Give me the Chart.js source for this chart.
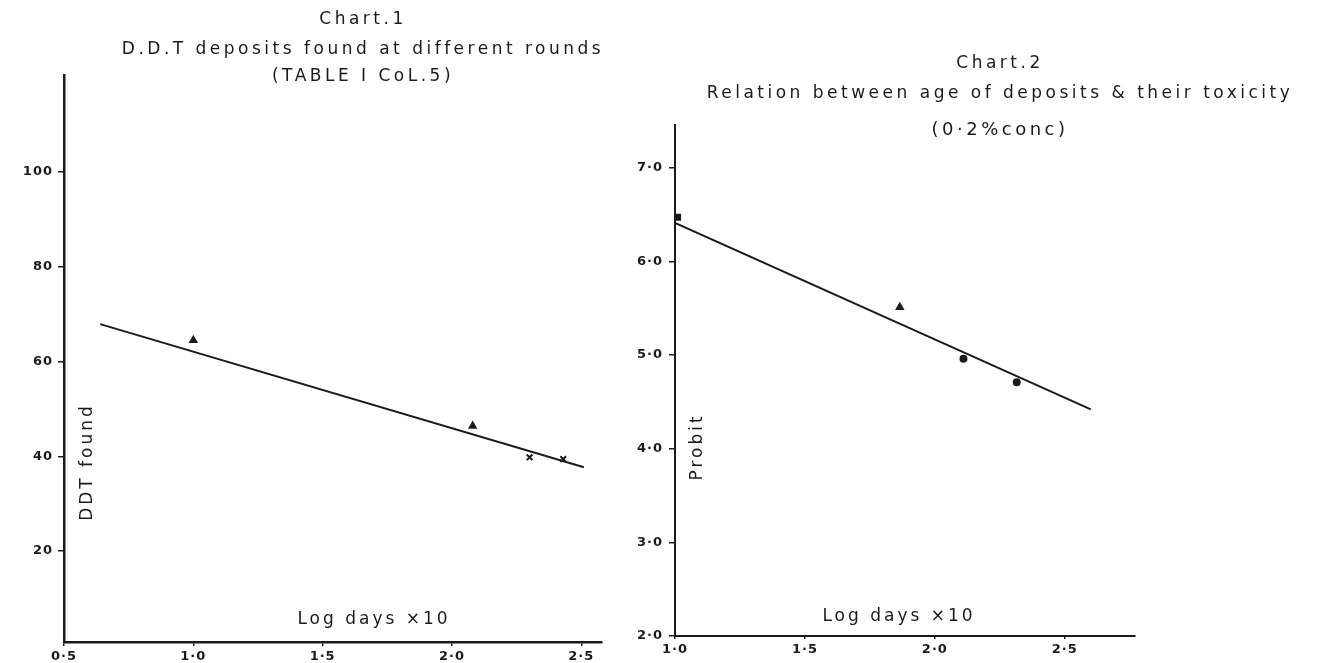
<!DOCTYPE html>
<html><head><meta charset="utf-8">
<script src="https://cdn.jsdelivr.net/npm/chart.js@4.4.1/dist/chart.umd.min.js"></script>
<style>
html,body{margin:0;padding:0;background:#fff;overflow:hidden;}
#wrap{position:relative;width:1321px;height:663px;overflow:hidden;background:#fff;}
#c1{position:absolute;left:0;top:0;}
#c2{position:absolute;left:630px;top:0;}
</style></head><body>
<div id="wrap"><canvas id="c2" width="740" height="663"></canvas><canvas id="c1" width="726" height="663"></canvas></div>
<script>
// ---- Chart 1: D.D.T deposits found at different rounds ----
const c1ObsLogDays = [1.00, 2.08, 2.30, 2.43];
const c1ObsDDT     = [64.5, 46.4, 39.8, 39.4];
const c1FitLogDays = [0.64, 2.51];
const c1FitDDT     = [67.9, 37.7];
const c1XTicks      = [0.5, 1.0, 1.5, 2.0, 2.5];
const c1XTickLabels = ['0·5', '1·0', '1·5', '2·0', '2·5'];
const c1YTicks      = [20, 40, 60, 80, 100];
const c1YTickLabels = ['20', '40', '60', '80', '100'];

// ---- Chart 2: Relation between age of deposits & their toxicity ----
const c2ObsLogDays = [1.01, 1.865, 2.11, 2.315];
const c2ObsProbit  = [6.47, 5.51, 4.96, 4.71];
const c2FitLogDays = [1.00, 2.60];
const c2FitProbit  = [6.41, 4.42];
const c2XTicks      = [1.0, 1.5, 2.0, 2.5];
const c2XTickLabels = ['1·0', '1·5', '2·0', '2·5'];
const c2YTicks      = [2, 3, 4, 5, 6, 7];
const c2YTickLabels = ['2·0', '3·0', '4·0', '5·0', '6·0', '7·0'];

const INK = '#1b1b1b';
const FONT = "'DejaVu Sans', sans-serif";

const spacingPlugin = {
  id: 'spacing',
  beforeDraw(chart, args, opts) { chart.ctx.letterSpacing = opts.title; },
  beforeDatasetsDraw(chart, args, opts) { chart.ctx.letterSpacing = opts.ticks; },
  afterDraw(chart) { chart.ctx.letterSpacing = '0px'; }
};

const inPlotTitles = {
  id: 'inPlotTitles',
  afterDraw(chart, args, o) {
    const {ctx, chartArea} = chart;
    ctx.save();
    ctx.letterSpacing = o.spacing;
    ctx.font = o.font;
    ctx.fillStyle = o.color;
    ctx.textAlign = 'center';
    ctx.textBaseline = 'middle';
    ctx.fillText(o.xText, chartArea.left + o.xdx, chartArea.bottom - o.xdy);
    ctx.translate(chartArea.left + o.ydx, chartArea.bottom - o.ydy);
    ctx.rotate(-Math.PI / 2);
    ctx.fillText(o.yText, 0, 0);
    ctx.restore();
  }
};

function pts(xs, ys) { return xs.map((x, i) => ({x: x, y: ys[i]})); }

function buildChart(id, s) {
  return new Chart(document.getElementById(id), {
    type: 'scatter',
    data: {
      datasets: [
        { label: 'fitted line', data: pts(s.fitX, s.fitY), showLine: true,
          borderColor: INK, borderWidth: 2, pointRadius: 0, fill: false },
        { label: 'observed', data: pts(s.obsX, s.obsY), showLine: false,
          pointStyle: s.pointStyles, pointRadius: s.pointRadii, pointBackgroundColor: INK,
          pointBorderColor: INK, pointBorderWidth: 2 }
      ]
    },
    options: {
      responsive: false, animation: false, devicePixelRatio: 1,
      layout: { padding: 0 },
      plugins: {
        legend: { display: false },
        tooltip: { enabled: false },
        title: { display: true, text: s.title, color: INK,
          font: { family: FONT, size: 17, weight: 'normal', lineHeight: 30 / 17 },
          padding: { top: s.titlePadTop, bottom: 0 } },
        subtitle: { display: true, text: s.subtitle, color: INK,
          font: { family: FONT, size: s.subSize, weight: 'normal', lineHeight: 20 / s.subSize },
          padding: { top: s.subPadTop, bottom: s.subPadBottom } },
        spacing: { title: '3.5px', ticks: '1px' },
        inPlotTitles: Object.assign({ spacing: '3px', font: "17px " + FONT, color: INK }, s.inPlot)
      },
      scales: {
        x: {
          type: 'linear', min: s.xMin, max: s.xMax,
          afterBuildTicks: sc => { sc.ticks = s.xTicks.map(v => ({ value: v })); },
          afterFit: sc => { sc.height = s.xAxisH; },
          ticks: { autoSkip: false, maxRotation: 0, minRotation: 0, padding: s.xTickPad, color: INK,
            font: { family: FONT, size: 13, weight: 'bold' }, z: 1,
            callback: (v, i) => s.xTickLabels[i] },
          grid: { display: true, drawOnChartArea: false, drawTicks: true, tickLength: s.xTickLen,
            color: INK, lineWidth: 1.5 },
          border: { display: true, color: INK, width: s.axisW, z: 1 }
        },
        y: {
          type: 'linear', min: s.yMin, max: s.yMax,
          afterBuildTicks: sc => { sc.ticks = s.yTicks.map(v => ({ value: v })); },
          afterFit: sc => { sc.width = s.yAxisW; },
          ticks: { autoSkip: false, padding: s.yTickPad, color: INK,
            font: { family: FONT, size: 13, weight: 'bold' }, z: 1,
            callback: (v, i) => s.yTickLabels[i] },
          grid: { display: true, drawOnChartArea: false, drawTicks: true, tickLength: s.yTickLen,
            color: INK, lineWidth: 1.5 },
          border: { display: true, color: INK, width: s.axisW, z: 1 }
        },
        // empty right-hand margin box so the titles centre over the whole canvas
        yMargin: {
          type: 'linear', position: 'right', display: true,
          grid: { display: false, drawTicks: false }, border: { display: false },
          ticks: { display: false },
          afterFit: sc => { sc.width = s.rightMargin; }
        }
      }
    },
    plugins: [spacingPlugin, inPlotTitles]
  });
}

buildChart('c1', {
  obsX: c1ObsLogDays, obsY: c1ObsDDT, fitX: c1FitLogDays, fitY: c1FitDDT,
  pointStyles: ['triangle', 'triangle', 'crossRot', 'crossRot'],
  pointRadii: [3.5, 3.5, 4, 4],
  title: ['Chart.1', 'D.D.T deposits found at different rounds'],
  subtitle: '(TABLE I CoL.5)', subSize: 17,
  titlePadTop: 5, subPadTop: 2, subPadBottom: -12,
  rightMargin: 124,
  xMin: 0.5, xMax: 2.58, xTicks: c1XTicks, xTickLabels: c1XTickLabels,
  xAxisH: 21, xTickLen: 4, xTickPad: 3,
  yMin: 0.8, yMax: 120.5, yTicks: c1YTicks, yTickLabels: c1YTickLabels,
  yAxisW: 64, yTickLen: 6, yTickPad: 5,
  axisW: 2.5,
  inPlot: { xText: 'Log days ×10', xdx: 310, xdy: 22, yText: 'DDT found', ydx: 24, ydy: 180 }
});

buildChart('c2', {
  obsX: c2ObsLogDays, obsY: c2ObsProbit, fitX: c2FitLogDays, fitY: c2FitProbit,
  pointStyles: ['rect', 'triangle', 'circle', 'circle'],
  pointRadii: [3.5, 3.5, 3, 3],
  title: ['Chart.2', 'Relation between age of deposits & their toxicity'],
  subtitle: '(0·2%conc)', subSize: 18,
  titlePadTop: 49, subPadTop: 11, subPadBottom: -15,
  rightMargin: 235,
  xMin: 1.0, xMax: 2.77, xTicks: c2XTicks, xTickLabels: c2XTickLabels,
  xAxisH: 27, xTickLen: 3, xTickPad: 3,
  yMin: 2.0, yMax: 7.455, yTicks: c2YTicks, yTickLabels: c2YTickLabels,
  yAxisW: 45, yTickLen: 6, yTickPad: 6,
  axisW: 2,
  inPlot: { xText: 'Log days ×10', xdx: 224, xdy: 19, yText: 'Probit', ydx: 23, ydy: 189 }
});
</script>
</body></html>
